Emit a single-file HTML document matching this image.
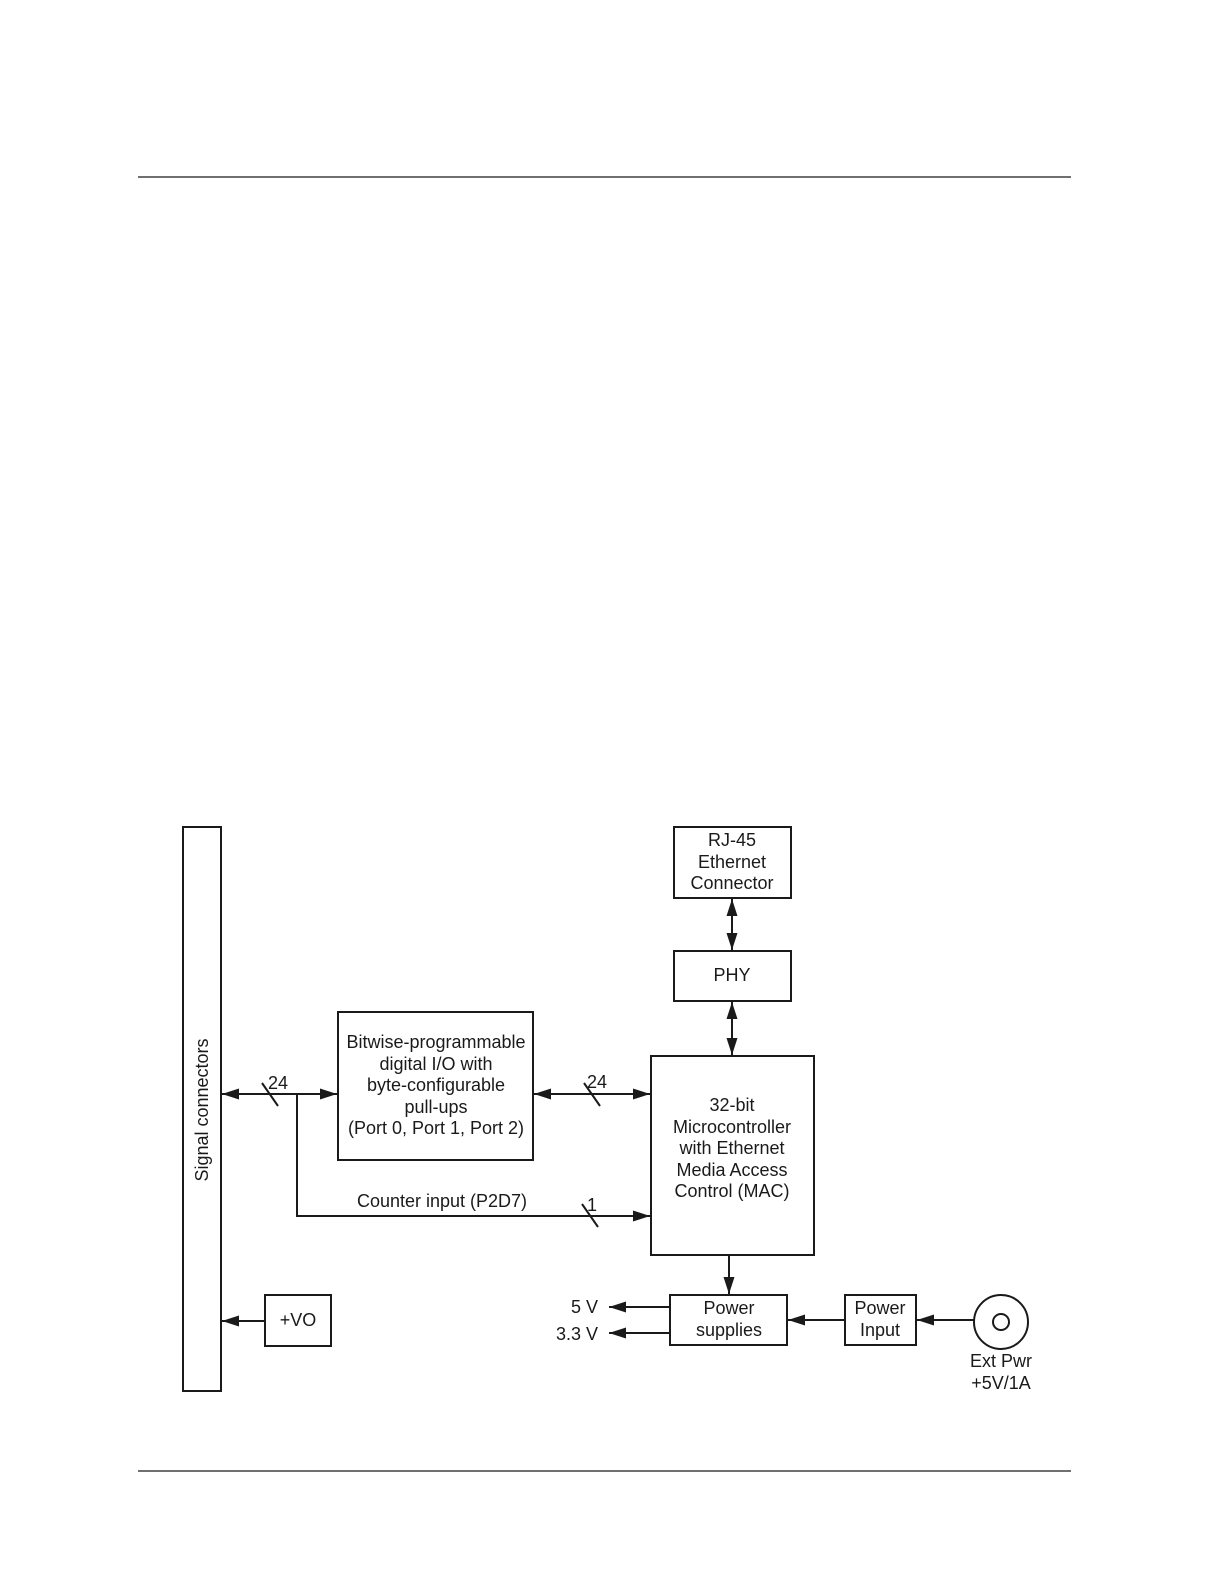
<!DOCTYPE html>
<html><head><meta charset="utf-8"><style>
html,body{margin:0;padding:0;background:#fff;overflow:hidden;width:1225px;height:1585px;}
svg{display:block;}
text{font-family:"Liberation Sans",sans-serif;font-size:18px;fill:#1a1a1a;}
</style></head><body>
<svg width="1225" height="1585" viewBox="0 0 1225 1585" xmlns="http://www.w3.org/2000/svg">
<defs>
<marker id="a" viewBox="0 0 10 10" refX="10" refY="5" markerWidth="17" markerHeight="11" markerUnits="userSpaceOnUse" orient="auto-start-reverse" preserveAspectRatio="none">
<path d="M0,0 L10,5 L0,10 z" fill="#1a1a1a"/></marker>
</defs>
<g stroke="#1a1a1a" fill="none">
<line x1="138" y1="177" x2="1071" y2="177" stroke-width="1.2"/>
<line x1="138" y1="1471" x2="1071" y2="1471" stroke-width="1.2"/>
<g stroke-width="2">
<rect x="183" y="827" width="38" height="564"/>
<rect x="674" y="827" width="117" height="71"/>
<rect x="674" y="951" width="117" height="50"/>
<rect x="651" y="1056" width="163" height="199"/>
<rect x="338" y="1012" width="195" height="148"/>
<rect x="265" y="1295" width="66" height="51"/>
<rect x="670" y="1295" width="117" height="50"/>
<rect x="845" y="1295" width="71" height="50"/>
<circle cx="1001" cy="1322" r="27"/>
<circle cx="1001" cy="1322" r="8"/>
<line x1="222" y1="1094" x2="337" y2="1094" marker-start="url(#a)" marker-end="url(#a)"/>
<polyline points="297,1094 297,1216 650,1216" marker-end="url(#a)"/>
<line x1="534" y1="1094" x2="650" y2="1094" marker-start="url(#a)" marker-end="url(#a)"/>
<line x1="732" y1="899" x2="732" y2="950" marker-start="url(#a)" marker-end="url(#a)"/>
<line x1="732" y1="1002" x2="732" y2="1055" marker-start="url(#a)" marker-end="url(#a)"/>
<line x1="729" y1="1256" x2="729" y2="1294" marker-end="url(#a)"/>
<line x1="670" y1="1307" x2="609" y2="1307" marker-end="url(#a)"/>
<line x1="670" y1="1333" x2="609" y2="1333" marker-end="url(#a)"/>
<line x1="845" y1="1320" x2="788" y2="1320" marker-end="url(#a)"/>
<line x1="974" y1="1320" x2="917" y2="1320" marker-end="url(#a)"/>
<line x1="265" y1="1321" x2="222" y2="1321" marker-end="url(#a)"/>
<line x1="262" y1="1083" x2="278" y2="1106"/>
<line x1="584" y1="1083" x2="600" y2="1106"/>
<line x1="582" y1="1204" x2="598" y2="1227"/>
</g></g>
<g text-anchor="middle">
<text x="732" y="846">RJ-45</text>
<text x="732" y="868">Ethernet</text>
<text x="732" y="889">Connector</text>
<text x="732" y="981">PHY</text>
<text x="732" y="1111">32-bit</text>
<text x="732" y="1133">Microcontroller</text>
<text x="732" y="1154">with Ethernet</text>
<text x="732" y="1176">Media Access</text>
<text x="732" y="1197">Control (MAC)</text>
<text x="436" y="1048">Bitwise-programmable</text>
<text x="436" y="1070">digital I/O with</text>
<text x="436" y="1091">byte-configurable</text>
<text x="436" y="1113">pull-ups</text>
<text x="436" y="1134">(Port 0, Port 1, Port 2)</text>
<text x="298" y="1326">+VO</text>
<text x="729" y="1314">Power</text>
<text x="729" y="1336">supplies</text>
<text x="880" y="1314">Power</text>
<text x="880" y="1336">Input</text>
<text x="1001" y="1367">Ext Pwr</text>
<text x="1001" y="1389">+5V/1A</text>
<text x="442" y="1207">Counter input (P2D7)</text>
</g>
<text x="268" y="1089">24</text>
<text x="587" y="1088">24</text>
<text x="587" y="1211">1</text>
<text x="598" y="1313" text-anchor="end">5 V</text>
<text x="598" y="1340" text-anchor="end">3.3 V</text>
<text transform="translate(208,1110) rotate(-90)" text-anchor="middle">Signal connectors</text>
</svg>
</body></html>
